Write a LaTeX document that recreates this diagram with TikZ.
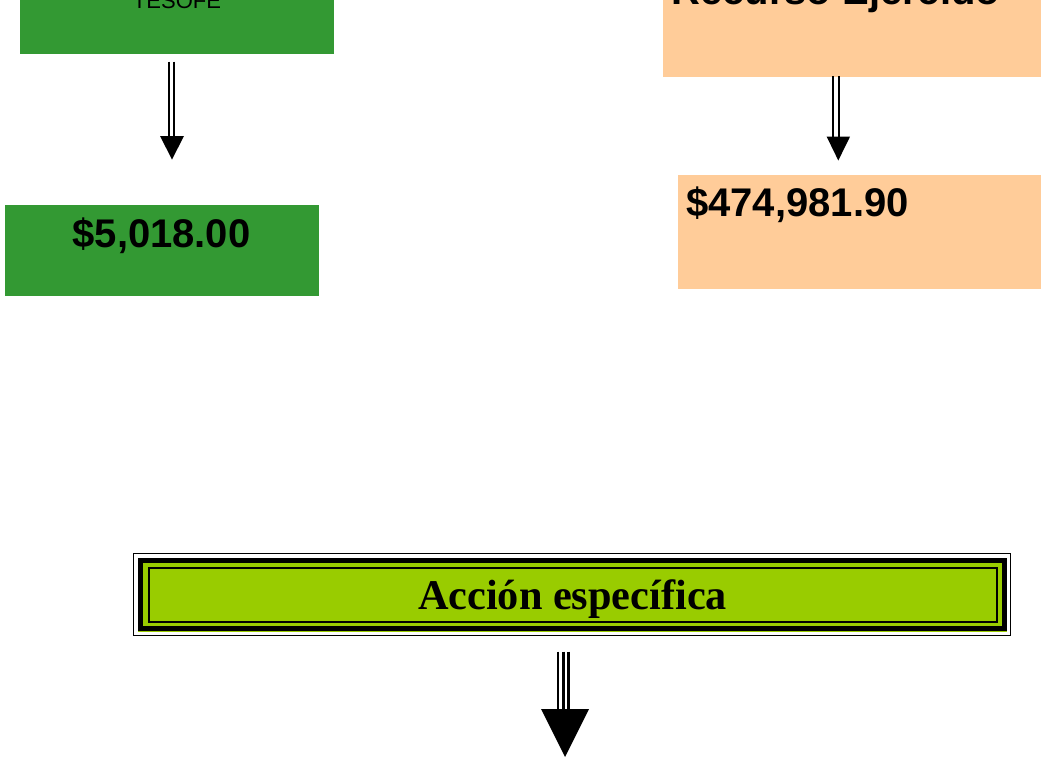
\documentclass[tikz,border=0pt]{standalone}
\usepackage{fontspec}
\setmainfont{Liberation Serif}
\setsansfont{Liberation Sans}
\definecolor{boxgreen}{HTML}{339933}
\definecolor{boxorange}{HTML}{FFCC99}
\definecolor{boxlime}{HTML}{99CC00}
\begin{document}
\begin{tikzpicture}[x=1pt,y=-1pt,
  plainbox/.style={draw=none,inner sep=0pt,outer sep=0pt},
  bigsans/.style={font=\fontsize{40}{48}\selectfont\sffamily\bfseries,inner sep=0pt},
  shaft/.style={draw=black,line width=2.3pt},
  shaftthree/.style={draw=black,line width=2.7pt},
  head/.style={fill=black}]
\useasboundingbox (0,0) rectangle (1041,761);
\clip (0,0) rectangle (1041,761);
% top left green box
\node[plainbox,fill=boxgreen,minimum width=314pt,minimum height=114pt] (g1) at (177,-3.5) {};
\node[font=\fontsize{22}{26}\selectfont\sffamily,inner sep=0pt,anchor=base] (tesofe) at (177,8.3) {TESOFE};
% top right orange box
\node[plainbox,fill=boxorange,minimum width=420pt,minimum height=120pt] (o1) at (873,16.7) {};
\node[bigsans,anchor=base west] (recurso) at (671,4) {Recurso Ejercido};
% second row boxes
\node[plainbox,fill=boxgreen,minimum width=314pt,minimum height=91pt] (g2) at (162,250.5) {};
\node[bigsans,anchor=base] (v1) at (161.5,247.3) {\$5,018.00};
\node[plainbox,fill=boxorange,minimum width=380pt,minimum height=114pt] (o2) at (868,232) {};
\node[bigsans,anchor=base west] (v2) at (686,216.5) {\$474,981.90};
% arrow 1
\coordinate (a1s) at (171.4,61.7);
\coordinate (a1t) at (172,159.5);
\draw[shaft] ([xshift=-2.4pt]a1s) -- ([xshift=-2.4pt]a1s |- 0,138);
\draw[shaft] ([xshift=2.4pt]a1s) -- ([xshift=2.4pt]a1s |- 0,138);
\fill[head] (160,136) -- (184,136) -- (a1t) -- cycle;
% arrow 2
\coordinate (a2s) at (836.3,76);
\coordinate (a2t) at (838.3,160.5);
\draw[shaft] (833.3,76) -- (833.3,139);
\draw[shaft] (839.3,76) -- (839.3,139);
\fill[head] (826.7,136.7) -- (850,136.7) -- (a2t) -- cycle;
% bottom framed box
\node[plainbox,draw=black,line width=1.8pt,minimum width=877pt,minimum height=82pt] (frame) at (572,594.5) {};
\fill[boxlime] (137.5,557.5) rectangle (1006.5,631.5);
\draw[black,line width=5.2pt] (140.3,560.3) rectangle (1004.2,628.6);
\draw[black,line width=2.2pt] (148.6,568) rectangle (996.8,622);
\node[font=\fontsize{42.3}{50}\selectfont\bfseries,inner sep=0pt,anchor=base] (accion) at (572.5,609.3) {Acción específica};
% arrow 3
\coordinate (a3s) at (563.3,651.7);
\coordinate (a3t) at (565,757);
\draw[shaftthree] (558,651.7) -- (558,712);
\draw[shaftthree] (563.3,651.7) -- (563.3,712);
\draw[shaftthree] (568.7,651.7) -- (568.7,712);
\fill[head] (541,709) -- (589,709) -- (a3t) -- cycle;
\end{tikzpicture}
\end{document}
